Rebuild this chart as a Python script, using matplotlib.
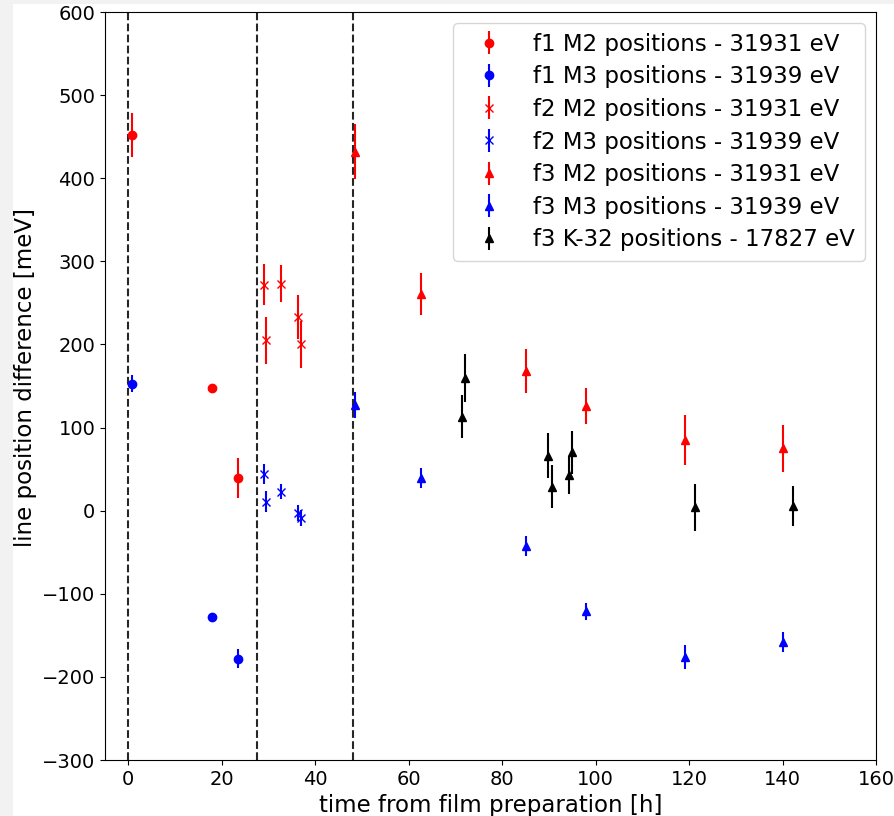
import matplotlib
matplotlib.use("Agg")
import matplotlib.pyplot as plt
from matplotlib.patches import Rectangle

# film 1
f1_t = [0.8, 17.8, 23.4]
f1_m2 = [452, 147, 39]
f1_m2_err = [27, 3, 24]
f1_m3 = [153, -128, -178]
f1_m3_err = [10, 3, 11]

# film 2
f2_t = [29.1, 29.5, 32.7, 36.4, 36.9]
f2_m2 = [272, 205, 273, 233, 200]
f2_m2_err = [25, 28, 22, 27, 28]
f2_m3 = [44, 11, 23, -3, -9]
f2_m3_err = [12, 13, 9, 10, 10]

# film 3
f3_t = [48.4, 62.6, 85.1, 98.0, 119.1, 140.0]
f3_m2 = [432, 261, 168, 126, 85, 75]
f3_m2_err = [33, 25, 27, 22, 30, 28]
f3_m3 = [127, 39, -43, -121, -176, -158]
f3_m3_err = [16, 12, 12, 10, 14, 12]

k32_t = [71.5, 72.0, 89.9, 90.7, 94.4, 94.9, 121.2, 142.2]
k32 = [113, 160, 66, 29, 43, 70, 4, 6]
k32_err = [26, 29, 27, 26, 23, 26, 28, 24]

prep_times = [0, 27.5, 48.1]

plt.rcParams["font.family"] = ["DejaVu Sans"]

fig = plt.figure(figsize=(8.95, 8.16), dpi=100, facecolor="white")
ax = fig.add_axes([105 / 895, 1 - 760 / 816, 771 / 895, 748 / 816])

for t in prep_times:
    ax.axvline(t, color="k", ls="--", lw=1.5, alpha=0.85)

ax.errorbar(f1_t, f1_m2, yerr=f1_m2_err, fmt="ro", label="f1 M2 positions - 31931 eV")
ax.errorbar(f1_t, f1_m3, yerr=f1_m3_err, fmt="bo", label="f1 M3 positions - 31939 eV")
ax.errorbar(f2_t, f2_m2, yerr=f2_m2_err, fmt="rx", label="f2 M2 positions - 31931 eV")
ax.errorbar(f2_t, f2_m3, yerr=f2_m3_err, fmt="bx", label="f2 M3 positions - 31939 eV")
ax.errorbar(f3_t, f3_m2, yerr=f3_m2_err, fmt="r^", label="f3 M2 positions - 31931 eV")
ax.errorbar(f3_t, f3_m3, yerr=f3_m3_err, fmt="b^", label="f3 M3 positions - 31939 eV")
ax.errorbar(k32_t, k32, yerr=k32_err, fmt="k^", label="f3 K-32 positions - 17827 eV")

ax.set_xlim(-5, 160)
ax.set_ylim(-300, 600)
ax.tick_params(labelsize=14)
ax.set_xlabel("time from film preparation [h]", fontsize=16.5)
ax.set_ylabel("line position difference [meV]", fontsize=16.5)
ax.yaxis.set_label_coords(-0.088, 0.511)
ax.legend(loc="upper right", fontsize=16.5, labelspacing=0.42, handlelength=2.3)

# grey frame around the white canvas (left and top)
fig.add_artist(Rectangle((0, 0), 13 / 895, 1, transform=fig.transFigure,
                         facecolor="#f2f2f2", edgecolor="none", zorder=10))
fig.add_artist(Rectangle((0, 1 - 4 / 816), 1, 4 / 816, transform=fig.transFigure,
                         facecolor="#f2f2f2", edgecolor="none", zorder=10))

fig.savefig("out.png", dpi=100, facecolor=fig.get_facecolor())
